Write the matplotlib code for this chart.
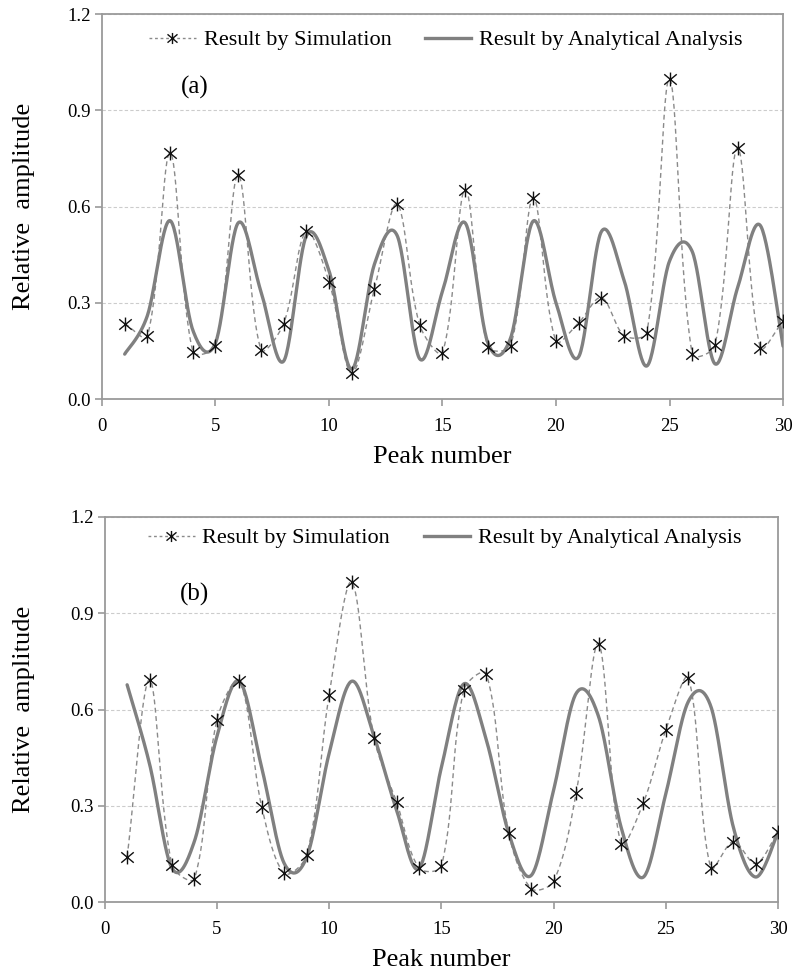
import numpy as np
import matplotlib
matplotlib.use("Agg")
import matplotlib.pyplot as plt
from matplotlib.path import Path
from matplotlib.lines import Line2D

plt.rcParams['font.family'] = ['Liberation Serif', 'DejaVu Serif']

peaks = np.arange(1, 31)

# panel (a)
sim_a = [0.235, 0.195, 0.767, 0.148, 0.166, 0.698, 0.154, 0.235, 0.523, 0.366,
         0.080, 0.343, 0.608, 0.230, 0.145, 0.653, 0.163, 0.166, 0.627, 0.180,
         0.238, 0.316, 0.198, 0.207, 0.997, 0.140, 0.167, 0.783, 0.160, 0.243]
ana_a = [0.140, 0.260, 0.556, 0.215, 0.175, 0.549, 0.336, 0.118, 0.508, 0.400,
         0.093, 0.420, 0.510, 0.125, 0.336, 0.549, 0.175, 0.190, 0.555, 0.300,
         0.132, 0.522, 0.370, 0.103, 0.430, 0.460, 0.110, 0.347, 0.541, 0.165]

# panel (b)
sim_b = [0.141, 0.693, 0.115, 0.073, 0.568, 0.690, 0.295, 0.089, 0.146, 0.646,
         0.997, 0.510, 0.313, 0.106, 0.112, 0.662, 0.711, 0.214, 0.042, 0.065,
         0.339, 0.805, 0.182, 0.310, 0.537, 0.698, 0.106, 0.188, 0.120, 0.219]
ana_b = [0.677, 0.430, 0.105, 0.190, 0.516, 0.688, 0.417, 0.120, 0.140, 0.464,
         0.688, 0.516, 0.287, 0.104, 0.420, 0.680, 0.505, 0.214, 0.083, 0.350,
         0.650, 0.578, 0.234, 0.078, 0.339, 0.625, 0.610, 0.234, 0.078, 0.219]

labels = ['Result by Simulation', 'Result by Analytical Analysis']

YSCALE = 14.1  # screen aspect of one y unit versus one x unit


def smooth(x, y, weighted=False, n=30):
    """Bezier smoothing through every point (smoothed-line style)."""
    p = np.column_stack([np.asarray(x, float), np.asarray(y, float) * YSCALE])
    p = np.vstack([p[0], p, p[-1]])
    t = np.linspace(0, 1, n, endpoint=False)[:, None]
    segs = []
    for i in range(1, len(p) - 2):
        p0, p1, p2, p3 = p[i - 1], p[i], p[i + 1], p[i + 2]
        if weighted:
            # tangents shrink next to long neighbouring segments -> less overshoot
            l0 = np.hypot(*(p1 - p0))
            l1 = np.hypot(*(p2 - p1))
            l2 = np.hypot(*(p3 - p2))
            k1 = l1 / (l0 + l1) / 3 if l0 + l1 > 0 else 0
            k2 = l1 / (l1 + l2) / 3 if l1 + l2 > 0 else 0
        else:
            k1 = k2 = 1 / 6
        c1 = p1 + (p2 - p0) * k1
        c2 = p2 - (p3 - p1) * k2
        b = ((1 - t) ** 3) * p1 + 3 * ((1 - t) ** 2) * t * c1 \
            + 3 * (1 - t) * t ** 2 * c2 + t ** 3 * p2
        segs.append(b)
    segs.append(p[-1][None, :])
    out = np.vstack(segs)
    return out[:, 0], out[:, 1] / YSCALE


# asterisk marker: vertical bar plus a wide cross
star = Path([(0, -1), (0, 1), (-0.9, -0.75), (0.9, 0.75), (-0.9, 0.75), (0.9, -0.75)],
            [Path.MOVETO, Path.LINETO] * 3)

grey = '#9a9a9a'


def panel(ax, sim, ana, tag, tagxy, legy, ylab_x):
    sx, sy = smooth(peaks, sim, weighted=True)
    ax.plot(sx, sy, color='#8a8a8a', lw=1.0, ls=(0, (3.5, 2.5)), zorder=2)
    ax.plot(peaks, sim, ls='none', marker=star, ms=10, mec='#111111',
            mew=1.0, mfc='none', zorder=4)
    ax_, ay_ = smooth(peaks, ana)
    ax.plot(ax_, ay_, color='#808080', lw=2.4, solid_capstyle='round', zorder=3)

    ax.set_xlim(0, 30)
    ax.set_ylim(0, 1.2)
    ax.set_xticks(range(0, 31, 5))
    ax.set_yticks(np.arange(0, 1.21, 0.3))
    ax.set_yticklabels([f'{v:.1f}' for v in np.arange(0, 1.21, 0.3)])
    ax.yaxis.grid(True, color='#cccccc', ls=(0, (3, 2)), lw=0.8)
    ax.set_axisbelow(True)
    for s in ax.spines.values():
        s.set_color(grey)
        s.set_linewidth(1.3)
    ax.tick_params(axis='both', direction='out', length=5, width=1.2,
                   color=grey, labelsize=13.5, labelcolor='black')
    ax.tick_params(axis='x', pad=9)
    ax.tick_params(axis='y', pad=3)

    ax.set_xlabel('Peak number', fontsize=19)
    ax.xaxis.label.set_va('center')
    ax.xaxis.set_label_coords(0.5, -0.15)
    ax.set_ylabel('Relative  amplitude', fontsize=19)
    ax.yaxis.label.set_va('center')
    ax.yaxis.set_label_coords(ylab_x, 0.5)

    ax.text(tagxy[0], tagxy[1], tag, fontsize=18, ha='center', va='center')

    h1 = Line2D([], [], color='#8a8a8a', lw=1.0, ls=(0, (2, 2)), marker=star,
                ms=8, mec='#111111', mew=1.0, mfc='none')
    h2 = Line2D([], [], color='#808080', lw=2.4)
    ax.legend([h1, h2], labels, loc='center', bbox_to_anchor=(0.505, legy),
              ncol=2, frameon=False, fontsize=16, handlelength=2.1,
              handletextpad=0.35, columnspacing=1.5, numpoints=1)


fig = plt.figure(figsize=(7.93, 9.74), dpi=100)
ax1 = fig.add_axes([0.1286, 0.5903, 0.8588, 0.3953])
ax2 = fig.add_axes([0.1320, 0.0739, 0.8493, 0.3953])

panel(ax1, sim_a, ana_a, '(a)', (4.1, 0.97), 0.932, -0.115)
panel(ax2, sim_b, ana_b, '(b)', (4.0, 0.96), 0.945, -0.12)

fig.savefig('out.png', dpi=100, facecolor='white')
